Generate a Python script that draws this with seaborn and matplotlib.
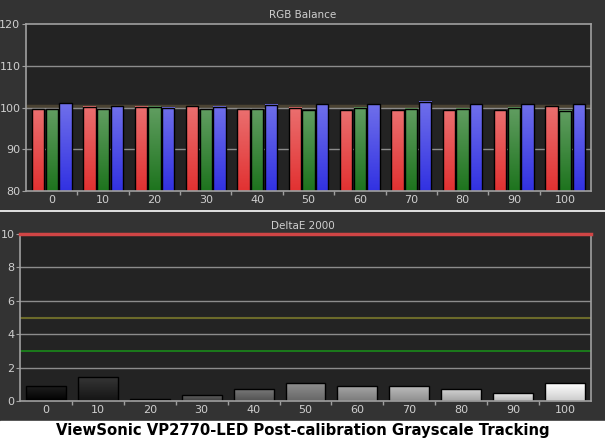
import numpy as np
import pandas as pd
import seaborn as sns
import matplotlib.pyplot as plt
from matplotlib.colors import to_rgb
from matplotlib.patches import Rectangle
from matplotlib.lines import Line2D

levels = ["0", "10", "20", "30", "40", "50", "60", "70", "80", "90", "100"]
red = [99.6, 100.2, 100.2, 100.3, 99.6, 99.9, 99.4, 99.4, 99.4, 99.4, 100.3]
green = [99.6, 99.6, 100.2, 99.6, 99.6, 99.4, 99.9, 99.7, 99.7, 99.9, 99.2]
blue = [101.0, 100.3, 99.9, 100.2, 100.6, 100.8, 100.8, 101.4, 100.8, 100.8, 100.8]
delta_e = [0.88, 1.42, 0.10, 0.34, 0.70, 1.06, 0.88, 0.88, 0.70, 0.46, 1.06]

bg = "#333333"
face = "#232323"
txt = "#cfcfcf"
grid = "#8c8c8c"

plt.rcParams.update({
    "figure.facecolor": bg,
    "axes.facecolor": face,
    "axes.edgecolor": "#a0a0a0",
    "xtick.color": "#a0a0a0",
    "ytick.color": "#a0a0a0",
    "xtick.labelcolor": txt,
    "ytick.labelcolor": txt,
    "font.size": 8,
    "image.composite_image": False,
})

rgb = pd.DataFrame({
    "level": levels * 3,
    "channel": ["R"] * 11 + ["G"] * 11 + ["B"] * 11,
    "value": red + green + blue,
})
de = pd.DataFrame({"level": levels, "value": delta_e})


def gradient_bars(ax, top_mix=0.3, dark=0.0):
    # replace flat bar fills with a vertical gradient over the visible part
    lo, hi = ax.get_ylim()
    for p in list(ax.patches):
        base = np.array(to_rgb(p.get_facecolor()))
        top = base + (1 - base) * top_mix
        bot = base * (1 - dark)
        t = np.linspace(0, 1, 64)[:, None]
        img = (top * (1 - t) + bot * t)[:, None, :]
        x, w = p.get_x(), p.get_width()
        y0 = max(p.get_y(), lo)
        y1 = min(p.get_y() + p.get_height(), hi)
        ax.imshow(img, extent=[x, x + w, y0, y1], aspect="auto",
                  origin="upper", zorder=2, interpolation="bilinear")
        p.set_facecolor("none")
        p.set_zorder(3)
    ax.set_ylim(lo, hi)


def style_axes(ax):
    ax.set_xlabel("")
    ax.set_ylabel("")
    ax.set_xlim(-0.5, 10.5)
    ax.set_xticks(np.arange(0.5, 10.5, 1), minor=True)
    ax.tick_params(axis="x", which="major", length=0, pad=3)
    ax.tick_params(axis="x", which="minor", length=3, width=1)
    ax.tick_params(axis="y", length=3, pad=1)
    for s in ax.spines.values():
        s.set_linewidth(1.2)
        s.set_zorder(5)


fig = plt.figure(figsize=(6.05, 4.41), dpi=100)
ax1 = fig.add_axes([26 / 605, 1 - 191 / 441, 565 / 605, 167 / 441])
ax2 = fig.add_axes([20 / 605, 1 - 401 / 441, 571 / 605, 167 / 441])

sns.barplot(data=rgb, x="level", y="value", hue="channel", ax=ax1,
            palette={"R": "#ff1414", "G": "#0f820f", "B": "#1414ff"},
            width=0.8, gap=0.1, edgecolor="black", linewidth=1,
            legend=False, zorder=3)
ax1.set_ylim(80, 120)
ax1.set_yticks([80, 90, 100, 110, 120])
style_axes(ax1)
gradient_bars(ax1, top_mix=0.3)
ax1.set_xlim(-0.5, 10.5)
for v in [90, 110]:
    ax1.axhline(v, color=grid, lw=1, zorder=0.5)
ax1.axhline(100.3, color="#4a4232", lw=2.5, zorder=0.5)
ax1.axhline(100, color=grid, lw=1, zorder=0.6)

grays = {lv: str(min(int(lv) / 100, 1.0)) for lv in levels}
sns.barplot(data=de, x="level", y="value", hue="level", ax=ax2,
            palette=grays, width=0.77, edgecolor="black", linewidth=1,
            legend=False, zorder=3)
ax2.set_ylim(0, 10)
ax2.set_yticks([0, 2, 4, 6, 8, 10])
style_axes(ax2)
gradient_bars(ax2, top_mix=0.12, dark=0.2)
ax2.set_xlim(-0.5, 10.5)
for v in [2, 4, 6, 8]:
    ax2.axhline(v, color=grid, lw=1, zorder=0.5)
ax2.axhline(3, color="#1a8a1a", lw=1.2, zorder=0.5)
ax2.axhline(5, color="#6b6a2a", lw=1.5, zorder=0.5)
ax2.axhline(10, color="#d04545", lw=2.5, zorder=6, clip_on=False)

fig.text(0.5, 1 - 15 / 441, "RGB Balance", color=txt, ha="center", va="center", fontsize=7.5)
fig.text(0.5, 1 - 226 / 441, "DeltaE 2000", color=txt, ha="center", va="center", fontsize=7.5)

fig.add_artist(Line2D([0, 1], [1 - 210.5 / 441] * 2, color="white", lw=1.2))
fig.add_artist(Rectangle((0, 0), 1, 20.5 / 441, color="white", zorder=0))
fig.text(0.5, 1 - 431 / 441, "ViewSonic VP2770-LED Post-calibration Grayscale Tracking",
         color="black", ha="center", va="center", fontsize=10.7, fontweight="bold")

fig.savefig("out.png", dpi=100, facecolor=bg)
